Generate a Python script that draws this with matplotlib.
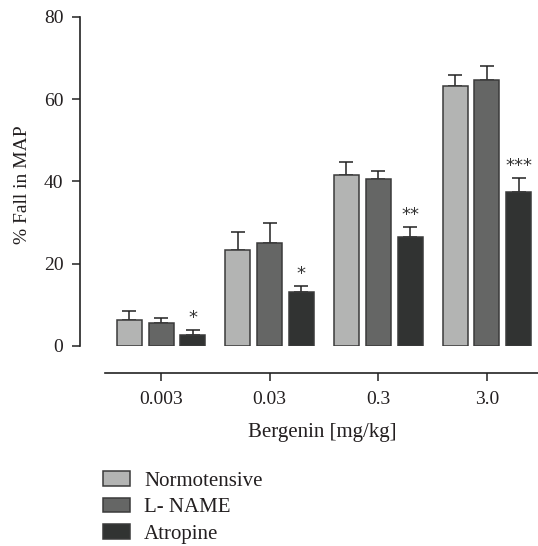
import matplotlib
matplotlib.use("Agg")
import matplotlib.pyplot as plt
import numpy as np

plt.rcParams['font.family'] = ['Liberation Serif', 'DejaVu Serif']

doses = ["0.003", "0.03", "0.3", "3.0"]
series_names = ["Normotensive", "L- NAME", "Atropine"]
normotensive = [6.4, 23.4, 41.6, 63.1]
normotensive_err = [2.0, 4.4, 3.0, 2.8]
lname = [5.6, 25.1, 40.6, 64.6]
lname_err = [1.2, 4.9, 2.0, 3.5]
atropine = [2.6, 13.2, 26.6, 37.3]
atropine_err = [1.4, 1.4, 2.3, 3.6]
atropine_sig = ["*", "*", "**", "***"]
yticks = [0, 20, 40, 60, 80]

colors = ["#b3b4b3", "#656665", "#313332"]
edge = "#3a3a3a"
txt = "#231f20"

W, H = 538, 546
fig = plt.figure(figsize=(W / 100, H / 100), dpi=100)
left_px, right_px, top_px, bot_px = 80, 538, 16.7, 346
ax = fig.add_axes([left_px / W, 1 - bot_px / H, (right_px - left_px) / W, (bot_px - top_px) / H])

x = np.arange(len(doses))
width = 0.23
offset = 0.293
data = [(normotensive, normotensive_err), (lname, lname_err), (atropine, atropine_err)]
for i, ((vals, errs), name, c) in enumerate(zip(data, series_names, colors)):
    pos = x + (i - 1) * offset
    ax.bar(pos, vals, width, color=c, edgecolor=edge, linewidth=1.1, label=name, zorder=3)
    ax.errorbar(pos, vals, yerr=[np.zeros(len(vals)), errs], fmt='none', ecolor="#222222",
                elinewidth=1.1, capsize=5.3, capthick=1.1, zorder=2)

for xi, v, e, s in zip(x + offset, atropine, atropine_err, atropine_sig):
    ax.annotate(s, (xi, v + e), xytext=(0, 2), textcoords='offset points', ha='center', va='bottom',
                fontsize=13, color="#333333", family='DejaVu Sans')

ax.set_ylim(0, 80)
ax.set_xlim(-0.746, 3.471)
ax.set_yticks(yticks)
ax.set_xticks(x)
ax.set_xticklabels(doses)

for s in ['top', 'right']:
    ax.spines[s].set_visible(False)
ax.spines['left'].set_linewidth(1.2)
ax.spines['left'].set_color("#222222")
ax.spines['bottom'].set_linewidth(1.2)
ax.spines['bottom'].set_color("#222222")
ax.spines['bottom'].set_position(('outward', 19.7))
ax.spines['bottom'].set_bounds(-0.518, 3.471)

ax.tick_params(axis='y', direction='out', length=6, width=1.1, colors="#222222", labelsize=14, pad=6, labelcolor=txt)
ax.tick_params(axis='x', direction='out', length=6, width=1.1, colors="#222222", labelsize=14, pad=7, labelcolor=txt)

ax.set_ylabel("% Fall in MAP", fontsize=14, color=txt)
ax.yaxis.set_label_coords(-0.108, 0.49)
ax.set_xlabel("Bergenin [mg/kg]", fontsize=15, color=txt)
ax.xaxis.set_label_coords(0.5295, -0.235)

handles, labels = ax.get_legend_handles_labels()
leg = fig.legend(handles, labels, loc='upper left', bbox_to_anchor=(98 / W, 1 - 466 / H),
                 frameon=False, fontsize=15, handlelength=1.3, handleheight=0.72,
                 handletextpad=0.67, labelspacing=0.32, borderaxespad=0, borderpad=0.25)
for t in leg.get_texts():
    t.set_color(txt)

fig.savefig("out.png", dpi=100)
